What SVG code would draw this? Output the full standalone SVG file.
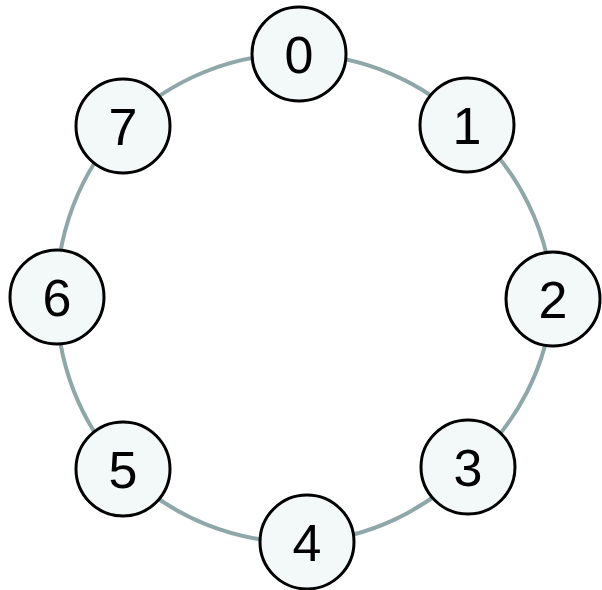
<svg xmlns="http://www.w3.org/2000/svg" width="602" height="590" viewBox="0 0 602 590">
<style>
.edge{fill:none;stroke:#8fa7a9;stroke-width:4}
.node circle{fill:#f2f9f8;stroke:#000;stroke-width:3}
.node text{font-family:"Liberation Sans",Arial,sans-serif;font-size:52px;fill:#000;text-anchor:middle}
</style>
<rect width="602" height="590" fill="#fff"/>
<g id="connectors">
<path class="edge" d="M299,54 A245,245 0 0 1 467,125"/>
<path class="edge" d="M467,125 A245,245 0 0 1 553,299"/>
<path class="edge" d="M553,299 A245,245 0 0 1 468,467"/>
<path class="edge" d="M468,467 A245,245 0 0 1 307,542"/>
<path class="edge" d="M307,542 A245,245 0 0 1 123,469"/>
<path class="edge" d="M123,469 A245,245 0 0 1 57,297"/>
<path class="edge" d="M57,297 A245,245 0 0 1 123,126"/>
<path class="edge" d="M123,126 A245,245 0 0 1 299,54"/>
</g>
<g id="n0" class="node"><circle cx="299" cy="54" r="47"/><text x="299" y="73">0</text></g>
<g id="n1" class="node"><circle cx="467" cy="125" r="47"/><text x="467" y="144">1</text></g>
<g id="n2" class="node"><circle cx="553" cy="299" r="47"/><text x="553" y="318">2</text></g>
<g id="n3" class="node"><circle cx="468" cy="467" r="47"/><text x="468" y="486">3</text></g>
<g id="n4" class="node"><circle cx="307" cy="542" r="47"/><text x="307" y="561">4</text></g>
<g id="n5" class="node"><circle cx="123" cy="469" r="47"/><text x="123" y="488">5</text></g>
<g id="n6" class="node"><circle cx="57" cy="297" r="47"/><text x="57" y="316">6</text></g>
<g id="n7" class="node"><circle cx="123" cy="126" r="47"/><text x="123" y="145">7</text></g>
</svg>
